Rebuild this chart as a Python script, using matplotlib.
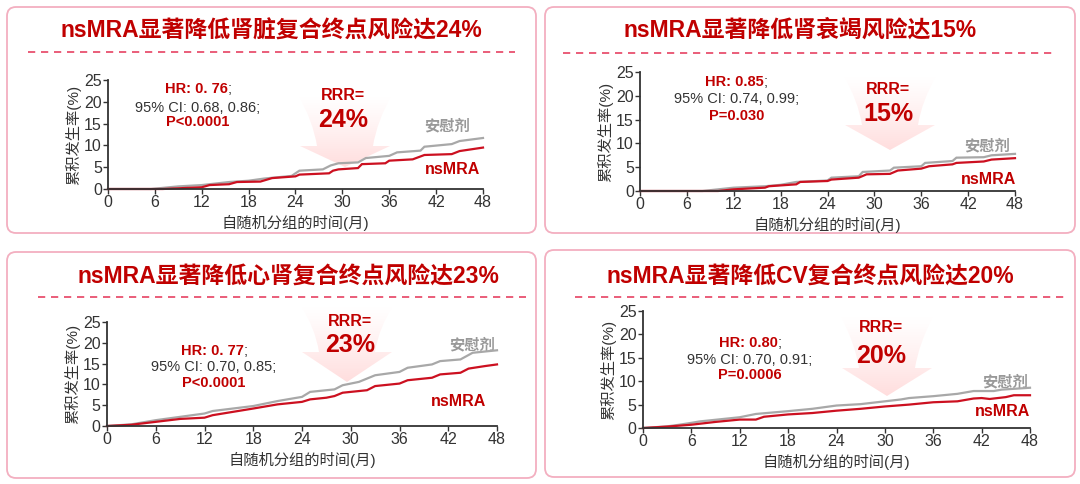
import numpy as np
import matplotlib
matplotlib.use("Agg")
import matplotlib.pyplot as plt
from matplotlib.patches import FancyBboxPatch, PathPatch
from matplotlib.path import Path

plt.rcParams['font.family'] = ['Liberation Sans', 'Noto Sans CJK SC', 'DejaVu Sans']

RED = '#C00000'
LINE_RED = '#CC1020'
GRAY = '#A8A8A8'
DARK = '#333333'

# ---- data (months, cumulative incidence %) ----
titles = ["nsMRA显著降低肾脏复合终点风险达24%",
          "nsMRA显著降低肾衰竭风险达15%",
          "nsMRA显著降低心肾复合终点风险达23%",
          "nsMRA显著降低CV复合终点风险达20%"]
hr_txt = ["HR: 0. 76", "HR: 0.85", "HR: 0. 77", "HR: 0.80"]
ci_txt = ["95% CI: 0.68, 0.86;", "95% CI: 0.74, 0.99;",
          "95% CI: 0.70, 0.85;", "95% CI: 0.70, 0.91;"]
p_txt = ["P<0.0001", "P=0.030", "P<0.0001", "P=0.0006"]
rrr_txt = ["24%", "15%", "23%", "20%"]
xticks = [0, 6, 12, 18, 24, 30, 36, 42, 48]
yticks = [0, 5, 10, 15, 20, 25]

p1_t_pbo = [0, 5.5, 9, 12, 15.5, 18, 20, 23.5, 24.5, 27.5, 28.5, 29.5, 32, 33, 36, 37, 40, 40.5, 44, 45, 48]
p1_pbo = [0, 0, 0.6, 0.9, 1.6, 1.9, 2.4, 3.0, 4.2, 4.5, 5.4, 5.9, 6.1, 7.1, 7.6, 8.4, 8.8, 9.7, 10.3, 11.0, 11.7]
p1_t_ns = [0, 7, 12, 13, 15.5, 16.5, 19.5, 21, 24, 24.5, 28.3, 28.8, 29.5, 32, 32.5, 35.5, 36, 39, 40.5, 44, 45, 48]
p1_ns = [0, 0, 0.4, 0.9, 1.1, 1.6, 1.7, 2.5, 2.9, 3.3, 3.6, 4.2, 4.5, 4.8, 5.7, 5.9, 6.5, 6.8, 7.8, 8.0, 8.7, 9.5]

p2_t_pbo = [0, 8, 12, 16, 18, 20, 24, 24.5, 28, 28.5, 32, 32.5, 36, 36.5, 40, 40.5, 44, 45, 48]
p2_pbo = [0, 0, 0.7, 1.0, 1.3, 1.9, 2.2, 2.8, 3.1, 4.0, 4.3, 4.9, 5.2, 5.9, 6.3, 7.0, 7.1, 7.5, 7.8]
p2_t_ns = [0, 10, 12, 16, 16.5, 20, 20.5, 24, 24.5, 28, 29, 32, 33, 36, 37, 40, 40.5, 44, 45, 48]
p2_ns = [0, 0, 0.35, 0.7, 1.0, 1.4, 1.9, 2.1, 2.4, 2.8, 3.5, 3.6, 4.3, 4.7, 5.2, 5.6, 5.9, 6.2, 6.6, 6.9]

p3_t_pbo = [0, 3, 6, 9, 12, 13, 18, 21, 24, 25, 28, 29, 31, 33, 36, 37, 40, 41, 43.5, 45, 48]
p3_pbo = [0, 0.4, 1.4, 2.2, 3.0, 3.6, 4.8, 6.0, 7.0, 8.2, 8.8, 9.8, 10.6, 12.2, 13.0, 14.0, 14.8, 15.6, 16.0, 17.6, 18.2]
p3_t_ns = [0, 3, 6, 9, 12, 13, 18, 21, 24, 25, 27, 28, 29, 32, 33, 36, 37, 40, 41, 43.5, 44.5, 46.5, 48]
p3_ns = [0, 0.3, 1.0, 1.7, 2.0, 2.6, 4.2, 5.2, 5.8, 6.4, 6.8, 7.2, 8.0, 8.6, 9.6, 10.2, 11.0, 11.6, 12.4, 12.8, 13.8, 14.4, 14.8]

p4_t_pbo = [0, 3, 4.5, 6, 7, 12, 14, 18, 21, 24, 27, 30, 32, 33, 36, 39, 41, 43.5, 44.5, 48]
p4_pbo = [0, 0.35, 0.7, 1.1, 1.4, 2.3, 3.0, 3.6, 4.1, 4.8, 5.1, 5.7, 6.1, 6.4, 6.8, 7.3, 7.9, 7.9, 8.2, 8.6]
p4_t_ns = [0, 3, 6, 9, 12, 14, 15, 18, 21, 24, 27, 30, 33, 36, 39, 41, 42, 43, 45, 46, 48]
p4_ns = [0, 0.3, 0.7, 1.3, 1.8, 1.8, 2.4, 2.9, 3.2, 3.7, 4.1, 4.6, 5.0, 5.5, 5.7, 6.3, 6.4, 6.2, 6.6, 7.0, 7.0]

curves = [(p1_t_pbo, p1_pbo, p1_t_ns, p1_ns),
          (p2_t_pbo, p2_pbo, p2_t_ns, p2_ns),
          (p3_t_pbo, p3_pbo, p3_t_ns, p3_ns),
          (p4_t_pbo, p4_pbo, p4_t_ns, p4_ns)]

# ---- layout, in pixels of the 1080x484 picture ----
W, H = 1080, 484
boxes = [(7, 7, 529, 226), (545, 7, 530, 226), (7, 252, 529, 226), (545, 250, 530, 227)]
title_xy = [(271, 31), (800, 30), (288, 276), (810, 276)]
dash = [(28, 515, 52), (563, 1052, 53), (38, 526, 297), (575, 1064, 297)]
axpix = [(108, 483, 189, 80), (640, 1015, 191, 72), (107, 497, 426, 322), (643, 1030, 428, 311)]
hr_pos = [(228, 89, 108, 122), (764, 82, 99, 116), (244, 351, 367, 383), (778, 343, 360, 375)]
ci_x = [198, 737, 214, 750]
rrr_pos = [(343, 96, 120), (888, 90, 114), (350, 322, 345), (881, 327, 356)]
arrow_geo = [(345, 95, 146, 167), (890, 75, 125, 150), (347, 305, 352, 382), (887, 315, 368, 396)]
pbo_lab = [(447, 126), (987, 146), (472, 345), (1005, 382)]
ns_lab = [(453, 170), (988, 180), (459, 401), (1002, 411)]

fig = plt.figure(figsize=(10.8, 4.84), dpi=100)
bg = fig.add_axes([0, 0, 1, 1], zorder=0)
bg.set_xlim(0, W)
bg.set_ylim(H, 0)
bg.axis('off')


def draw_arrow(ax, cx, top, base, tip):
    hw, sw_top, sw_bot = 45, 47, 28
    verts = [(cx - sw_top, top), (cx - sw_bot - 4, base - 25), (cx - sw_bot, base),
             (cx - hw, base), (cx, tip), (cx + hw, base), (cx + sw_bot, base),
             (cx + sw_bot + 4, base - 25), (cx + sw_top, top), (cx - sw_top, top)]
    codes = [Path.MOVETO, Path.CURVE3, Path.CURVE3, Path.LINETO, Path.LINETO,
             Path.LINETO, Path.LINETO, Path.CURVE3, Path.CURVE3, Path.CLOSEPOLY]
    patch = PathPatch(Path(verts, codes), facecolor='none', edgecolor='none')
    ax.add_patch(patch)
    n = 100
    grad = np.zeros((n, 1, 4))
    grad[..., 0] = 1.0
    grad[..., 1] = 0.76
    grad[..., 2] = 0.76
    grad[:, 0, 3] = np.linspace(0.0, 0.6, n) ** 1.2
    im = ax.imshow(grad, extent=[cx - sw_top, cx + sw_top, tip, top], origin='upper',
                   aspect='auto', interpolation='bilinear', zorder=1)
    im.set_clip_path(patch)


for i in range(4):
    bx, by, bw, bh = boxes[i]
    bg.add_patch(FancyBboxPatch((bx, by), bw, bh, boxstyle="round,pad=0,rounding_size=9",
                                facecolor='white', edgecolor='#F3AFC0', linewidth=1.3, zorder=0.5))
    bg.text(title_xy[i][0], title_xy[i][1], titles[i], color=RED, fontsize=16.5,
            fontweight='bold', ha='center', va='center', zorder=3)
    x1, x2, yd = dash[i]
    bg.plot([x1, x2], [yd, yd], color='#E8506E', linewidth=1.3, linestyle=(0, (4, 3.2)), zorder=2)
    cx, top, base, tip = arrow_geo[i]
    draw_arrow(bg, cx, top, base, tip)

    hx, hy, cy, py = hr_pos[i]
    bg.text(hx, hy, hr_txt[i], color=RED, fontsize=10.5, fontweight='bold', ha='right', va='center', zorder=3)
    bg.text(hx, hy, ";", color=DARK, fontsize=10.5, ha='left', va='center', zorder=3)
    bg.text(ci_x[i], cy, ci_txt[i], color=DARK, fontsize=10.5, ha='center', va='center', zorder=3)
    bg.text(ci_x[i], py, p_txt[i], color=RED, fontsize=10.5, fontweight='bold', ha='center', va='center', zorder=3)

    rx, ry1, ry2 = rrr_pos[i]
    bg.text(rx, ry1, "RRR=", color=RED, fontsize=11.5, fontweight='bold', ha='center', va='center', zorder=3)
    bg.text(rx, ry2, rrr_txt[i], color=RED, fontsize=18, fontweight='bold', ha='center', va='center', zorder=3)
    bg.text(pbo_lab[i][0], pbo_lab[i][1], "安慰剂", color='#999999', fontsize=11,
            fontweight='bold', ha='center', va='center', zorder=3)
    bg.text(ns_lab[i][0], ns_lab[i][1], "nsMRA", color=RED, fontsize=11.5,
            fontweight='bold', ha='center', va='center', zorder=3)

bg.set_xlim(0, W)
bg.set_ylim(H, 0)

for i in range(4):
    x0, x48, y0, y25 = axpix[i]
    ax = fig.add_axes([x0 / W, 1 - y0 / H, (x48 - x0) / W, (y0 - y25) / H], zorder=2)
    ax.patch.set_alpha(0)
    tp, vp, tn, vn = curves[i]
    ax.plot(tp, vp, color=GRAY, linewidth=1.6, clip_on=False, solid_joinstyle='miter')
    ax.plot(tn, vn, color=LINE_RED, linewidth=1.6, clip_on=False, solid_joinstyle='miter')
    ax.set_xlim(0, 48)
    ax.set_ylim(0, 25)
    ax.set_xticks(xticks)
    ax.set_yticks(yticks)
    for s in ['top', 'right']:
        ax.spines[s].set_visible(False)
    for s in ['left', 'bottom']:
        ax.spines[s].set_color(DARK)
        ax.spines[s].set_linewidth(1.3)
    ax.tick_params(axis='both', colors=DARK, labelsize=11.5, length=3.5, width=1, pad=1)
    ax.set_xlabel("自随机分组的时间(月)", fontsize=11, color=DARK, labelpad=3)
    ax.set_ylabel("累积发生率(%)", fontsize=11, color=DARK, labelpad=2)

fig.savefig("out.png", dpi=100)
